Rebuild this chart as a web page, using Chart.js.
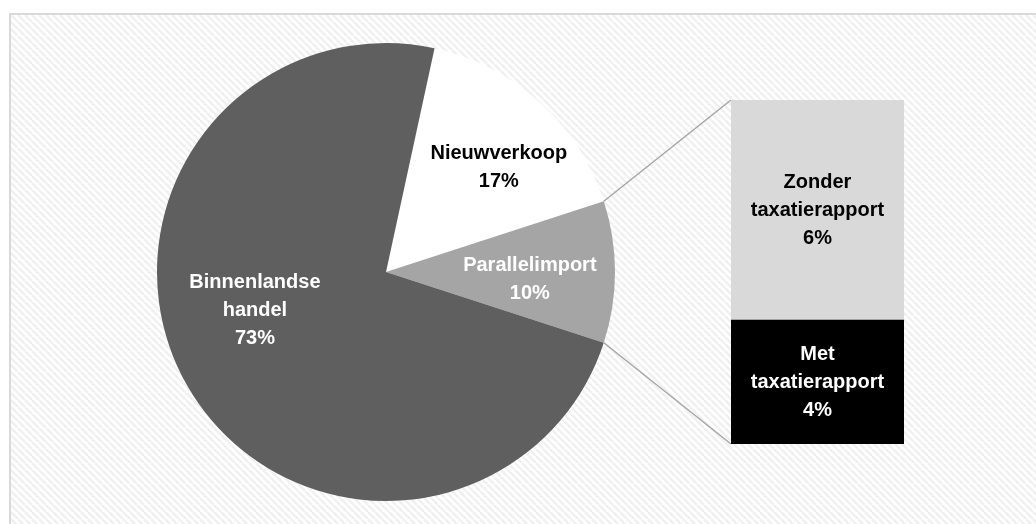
<!DOCTYPE html>
<html lang="nl">
<head>
<meta charset="UTF-8">
<title>Verkoop naar herkomst</title>
<script src="https://cdn.jsdelivr.net/npm/chart.js"></script>
<style>
  html, body { margin: 0; padding: 0; background: #fff; overflow: hidden; }
  body { width: 1036px; height: 524px; position: relative; font-family: "Liberation Sans", Arial, sans-serif; }
  .frame { position: absolute; left: 9px; top: 13px; width: 1040px; height: 520px; border: 2px solid #d9d9d9; box-sizing: border-box; }
  #pieChart { position: absolute; left: 11px; top: 15px; }
  #barChart { position: absolute; left: 731px; top: 100px; }
</style>
</head>
<body>
<div class="frame"></div>
<canvas id="pieChart" width="1025" height="509"></canvas>
<canvas id="barChart" width="173" height="344"></canvas>
<script>
// main pie: the middle slice is the sum of the split-out bar
const pieLabels = [["Nieuwverkoop"], ["Parallelimport"], ["Binnenlandse", "handel"]];
const pieColors = ["#ffffff", "#a5a5a5", "#5f5f5f"];
const pieTextColors = ["#000000", "#ffffff", "#ffffff"];

// split of Parallelimport (bottom to top)
const barLabels = [["Met", "taxatierapport"], ["Zonder", "taxatierapport"]];
const barValues = [3.6, 6.4];
const barColors = ["#000000", "#d9d9d9"];
const barTextColors = ["#ffffff", "#000000"];

const parallelTotal = barValues.reduce((a, b) => a + b, 0);
const pieValues = [16.6, parallelTotal, 73.4];

const FONT = "bold 20px 'Liberation Sans', Arial, sans-serif";
const LINE_H = 28;

function drawBlock(ctx, lines, x, y, color) {
  ctx.save();
  ctx.font = FONT;
  ctx.fillStyle = color;
  ctx.textAlign = "center";
  ctx.textBaseline = "middle";
  const top = y - (lines.length - 1) * LINE_H / 2;
  lines.forEach((t, i) => ctx.fillText(t, x, top + i * LINE_H));
  ctx.restore();
}

// ---- bar (drawn first so the pie can connect to it)
const barLabelPlugin = {
  id: "barLabels",
  afterDatasetsDraw(chart) {
    const ctx = chart.ctx;
    chart.data.datasets.forEach((ds, i) => {
      const el = chart.getDatasetMeta(i).data[0];
      const cy = (el.y + el.base) / 2;
      const pct = Math.round(ds.data[0]) + "%";
      drawBlock(ctx, barLabels[i].concat([pct]), el.x, cy, barTextColors[i]);
    });
  }
};

const barChart = new Chart(document.getElementById("barChart"), {
  type: "bar",
  data: {
    labels: ["Parallelimport"],
    datasets: barValues.map((v, i) => ({
      label: barLabels[i].join(" "),
      data: [v],
      backgroundColor: barColors[i],
      borderWidth: 0,
      barPercentage: 1,
      categoryPercentage: 1
    }))
  },
  options: {
    responsive: false,
    animation: false,
    layout: { padding: 0 },
    plugins: { legend: { display: false }, tooltip: { enabled: false } },
    scales: {
      x: { stacked: true, display: false },
      y: { stacked: true, display: false, min: 0, max: parallelTotal }
    }
  },
  plugins: [barLabelPlugin]
});

// ---- pie
function makePattern() {
  const s = 7;
  const c = document.createElement("canvas");
  c.width = s; c.height = s;
  const g = c.getContext("2d");
  g.fillStyle = "#ffffff";
  g.fillRect(0, 0, s, s);
  g.strokeStyle = "#f0f0f0";
  g.lineWidth = 2.5;
  for (let k = -1; k <= 1; k++) {
    g.beginPath();
    g.moveTo(k * s, 0);
    g.lineTo(k * s + s, s);
    g.stroke();
  }
  return c;
}

const backgroundPlugin = {
  id: "hatch",
  beforeDraw(chart) {
    const ctx = chart.ctx;
    ctx.save();
    ctx.fillStyle = ctx.createPattern(makePattern(), "repeat");
    ctx.fillRect(0, 0, chart.width, chart.height);
    ctx.restore();
  }
};

const connectorPlugin = {
  id: "connectors",
  afterDatasetsDraw(chart) {
    const arc = chart.getDatasetMeta(0).data[1];
    const pieBox = chart.canvas.getBoundingClientRect();
    const barBox = barChart.canvas.getBoundingClientRect();
    const dx = barBox.left - pieBox.left, dy = barBox.top - pieBox.top;
    const els = barChart.data.datasets.map((d, i) => barChart.getDatasetMeta(i).data[0]);
    const topEl = els[els.length - 1], botEl = els[0];
    const left = topEl.x - topEl.width / 2 + dx;
    const ctx = chart.ctx;
    ctx.save();
    ctx.strokeStyle = "#a6a6a6";
    ctx.lineWidth = 1.5;
    [[arc.startAngle, topEl.y + dy], [arc.endAngle, botEl.base + dy]].forEach(([a, y]) => {
      ctx.beginPath();
      ctx.moveTo(arc.x + Math.cos(a) * arc.outerRadius, arc.y + Math.sin(a) * arc.outerRadius);
      ctx.lineTo(left, y);
      ctx.stroke();
    });
    ctx.restore();
  }
};

// small nudges for the label blocks, like the spreadsheet places them
const labelNudge = [[13, 6], [-5, 7], [-2, -36]];

const pieLabelPlugin = {
  id: "pieLabels",
  afterDatasetsDraw(chart) {
    const ctx = chart.ctx;
    const total = pieValues.reduce((a, b) => a + b, 0);
    chart.getDatasetMeta(0).data.forEach((arc, i) => {
      const mid = (arc.startAngle + arc.endAngle) / 2;
      const r = arc.outerRadius * 0.65;
      const x = arc.x + Math.cos(mid) * r + labelNudge[i][0];
      const y = arc.y + Math.sin(mid) * r + labelNudge[i][1];
      const pct = Math.round(pieValues[i] / total * 100) + "%";
      drawBlock(ctx, pieLabels[i].concat([pct]), x, y, pieTextColors[i]);
    });
  }
};

const total = pieValues.reduce((a, b) => a + b, 0);
// put the Parallelimport slice centred on the right side
const startRot = 90 - (parallelTotal / total * 360) / 2 - (pieValues[0] / total * 360);

new Chart(document.getElementById("pieChart"), {
  type: "pie",
  data: {
    labels: pieLabels.map(l => l.join(" ")),
    datasets: [{
      data: pieValues,
      backgroundColor: pieColors,
      borderWidth: 0
    }]
  },
  options: {
    responsive: false,
    animation: false,
    rotation: startRot,
    layout: { padding: { left: 146, top: 28, right: 421, bottom: 23 } },
    plugins: { legend: { display: false }, tooltip: { enabled: false } }
  },
  plugins: [backgroundPlugin, connectorPlugin, pieLabelPlugin]
});
</script>
</body>
</html>
